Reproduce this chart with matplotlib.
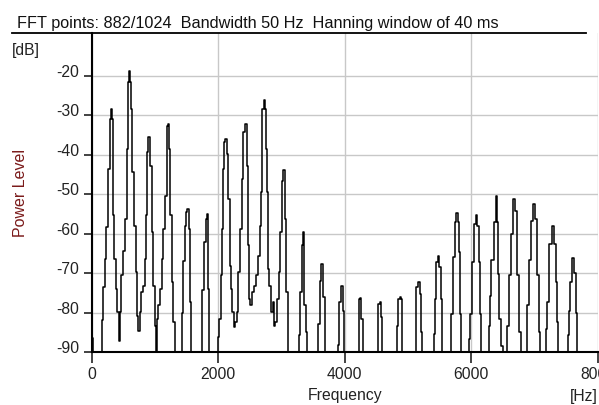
import matplotlib
matplotlib.use("Agg")
import matplotlib.pyplot as plt
from matplotlib.lines import Line2D

plt.rcParams['font.family'] = ['Liberation Sans', 'DejaVu Sans']
plt.rcParams['axes.unicode_minus'] = False

title = "FFT points: 882/1024  Bandwidth 50 Hz  Hanning window of 40 ms"

# spectrum trace, one row per harmonic (f0 ~ 304 Hz)
trace_hz = [
    0, 20, 36,
    167, 167, 194, 221, 237, 273, 300, 316, 332, 352, 368, 395, 411, 436,
    458, 483, 515, 542, 562, 578, 594, 616, 632, 657, 684, 711, 726, 752,
    774, 790, 826, 853, 868, 879, 910, 936, 963, 989, 1000, 1026,
    1042, 1068, 1094, 1121, 1147, 1173, 1194, 1210, 1236, 1252, 1279, 1300, 1326,
    1421, 1437, 1460, 1484, 1500, 1516, 1552, 1568, 1579,
    1737, 1762, 1789, 1816, 1832, 1852, 1868,
    1990, 2010, 2026, 2053, 2063, 2078, 2105, 2121, 2147, 2173, 2184, 2211, 2236, 2252,
    2279, 2305, 2331, 2358, 2384, 2410, 2437, 2463, 2484, 2500, 2516, 2542, 2579, 2621,
    2642, 2663, 2684, 2710, 2726, 2747, 2763, 2779, 2789, 2815, 2852, 2868, 2884, 2905,
    2947, 2963, 3000, 3016, 3037, 3063, 3089, 3115,
    3263, 3289, 3305, 3326, 3347, 3368, 3395, 3410,
    3578, 3589, 3616, 3641, 3668, 3695,
    3884, 3894, 3921, 3952, 3984, 4000,
    4226, 4226, 4245, 4262, 4285, 4289,
    4516, 4516, 4542, 4564, 4579, 4605,
    4826, 4832, 4857, 4879, 4884, 4911,
    5116, 5121, 5142, 5168, 5195, 5211, 5236,
    5405, 5410, 5437, 5458, 5479, 5500, 5526, 5552,
    5669, 5695, 5721, 5748, 5773, 5789, 5805, 5832, 5843,
    5958, 5963, 5990, 6026, 6053, 6084, 6105, 6132, 6148, 6168,
    6274, 6279, 6300, 6332, 6368, 6395, 6411, 6432, 6447, 6484, 6500,
    6553, 6569, 6605, 6642, 6679, 6700, 6737, 6779, 6800,
    6858, 6884, 6921, 6958, 6990, 7027, 7053, 7079, 7095,
    7174, 7185, 7211, 7253, 7290, 7316, 7343, 7358, 7379,
    7516, 7527, 7542, 7569, 7605, 7632, 7658, 7674, 8000,
]
trace_db = [
    -84, -86.5, -90,
    -90, -82, -73.6, -66.4, -58.4, -43.6, -31, -28.4, -31, -55.4, -66.4, -74, -79.9, -87.1,
    -79.9, -70.6, -64.3, -56.3, -38.6, -21.7, -18.7, -21.7, -28.4, -44.5, -58, -69.8, -80.8, -84.6,
    -79.9, -74.8, -73.2, -66.4, -55.4, -39.4, -35.6, -42.8, -59.6, -73.2, -83.3, -90,
    -81.6, -78.2, -74, -66.4, -58.8, -50.4, -32.7, -32.2, -38.6, -55.4, -72.3, -82.4, -90,
    -90, -80, -67, -58, -54.5, -53.7, -58.8, -77.4, -90,
    -90, -74.4, -62.2, -56.3, -55, -74, -90,
    -90, -86.2, -81.6, -70.6, -58.8, -43.6, -36.9, -36, -39.8, -51.2, -68.1, -74, -79.9, -83.7,
    -82.4, -79.9, -69.8, -58.8, -46.2, -34.3, -32.2, -42.8, -63, -76.5, -78.2, -74.8, -73.2, -70.6,
    -65.6, -58, -49.5, -28.4, -26.1, -28.4, -38.6, -49.5, -68.9, -73.2, -79.9, -77.4, -83.3, -82.4,
    -76.5, -69.8, -59.6, -46.6, -44, -56.3, -74.8, -90,
    -90, -85.8, -74.8, -63, -59.6, -78.2, -85, -90,
    -90, -82.9, -71.9, -67.8, -76.1, -90,
    -90, -88.2, -77.4, -73.3, -79.5, -90,
    -90, -76.6, -76.4, -81.6, -81.6, -90,
    -90, -83.3, -77.8, -77.4, -81.2, -90,
    -90, -83.3, -76.5, -76.1, -76.5, -90,
    -90, -81.6, -73.6, -72.2, -75.3, -85, -90,
    -90, -85.4, -76.5, -67.1, -65.6, -68.4, -76.5, -90,
    -90, -80.3, -66, -57.1, -54.8, -57.1, -64.7, -80.3, -90,
    -90, -86.7, -80.3, -67.2, -57.5, -55.2, -58, -67.2, -80.3, -90,
    -90, -83.3, -75.7, -66.8, -57.1, -50.6, -57.1, -70.2, -81.6, -88.4, -90,
    -90, -83.3, -70.6, -60.1, -51.2, -54.2, -70.6, -85, -90,
    -90, -78.2, -66.8, -56.7, -52.5, -56.3, -70.6, -85, -90,
    -90, -84.1, -77.4, -62.6, -58.1, -62.6, -72.3, -82.4, -90,
    -90, -85.8, -79.5, -72.2, -66.2, -69.9, -80.1, -90, -90,
]

x_ticks = [0, 2000, 4000, 6000, 8000]
y_ticks = [-90, -80, -70, -60, -50, -40, -30, -20]

W, H = 599, 406
fig = plt.figure(figsize=(W / 100, H / 100), dpi=100)
ax = fig.add_axes([91.7 / W, (H - 353) / H, (598 - 91.7) / W, (353 - 34) / H])

ax.plot(trace_hz, trace_db, color='black', lw=1.1, drawstyle='steps-mid', clip_on=False, zorder=3)

ax.set_xlim(0, 8000)
ax.set_ylim(-90, -9.2)
ax.set_xticks(x_ticks)
ax.set_yticks(y_ticks)
ax.grid(True, color='#c8c8c8', lw=1.0)
ax.set_axisbelow(True)

for s in ['top', 'right']:
    ax.spines[s].set_visible(False)
for s in ['left', 'bottom']:
    ax.spines[s].set_linewidth(1.5)
    ax.spines[s].set_zorder(4)

ax.tick_params(axis='x', direction='out', length=8, width=1.2, pad=2, labelsize=11.3, colors='#222222')
ax.tick_params(axis='y', direction='out', length=6, width=1.2, pad=3, labelsize=11.3, colors='#222222')
for lab in ax.get_yticklabels():
    lab.set_verticalalignment('baseline')

# title, underline and the unit labels
fig.text(17 / W, (H - 28) / H, title, fontsize=11.7, color='#111111', va='baseline', ha='left')
fig.add_artist(Line2D([12 / W, 586 / W], [(H - 34) / H, (H - 34) / H], color='black', lw=1.3))
fig.text(12 / W, (H - 55) / H, "[dB]", fontsize=11.3, color='#222222', va='baseline', ha='left')
fig.text(598 / W, (H - 401) / H, "[Hz]", fontsize=11.3, color='#222222', va='baseline', ha='right')
fig.text(345 / W, (H - 400) / H, "Frequency", fontsize=11.3, color='#222222', va='baseline', ha='center')
fig.text(21 / W, (H - 193) / H, "Power Level", fontsize=11.5, color='#7a1a1a', rotation=90,
         va='center', ha='center')

fig.savefig("out.png", dpi=100)
